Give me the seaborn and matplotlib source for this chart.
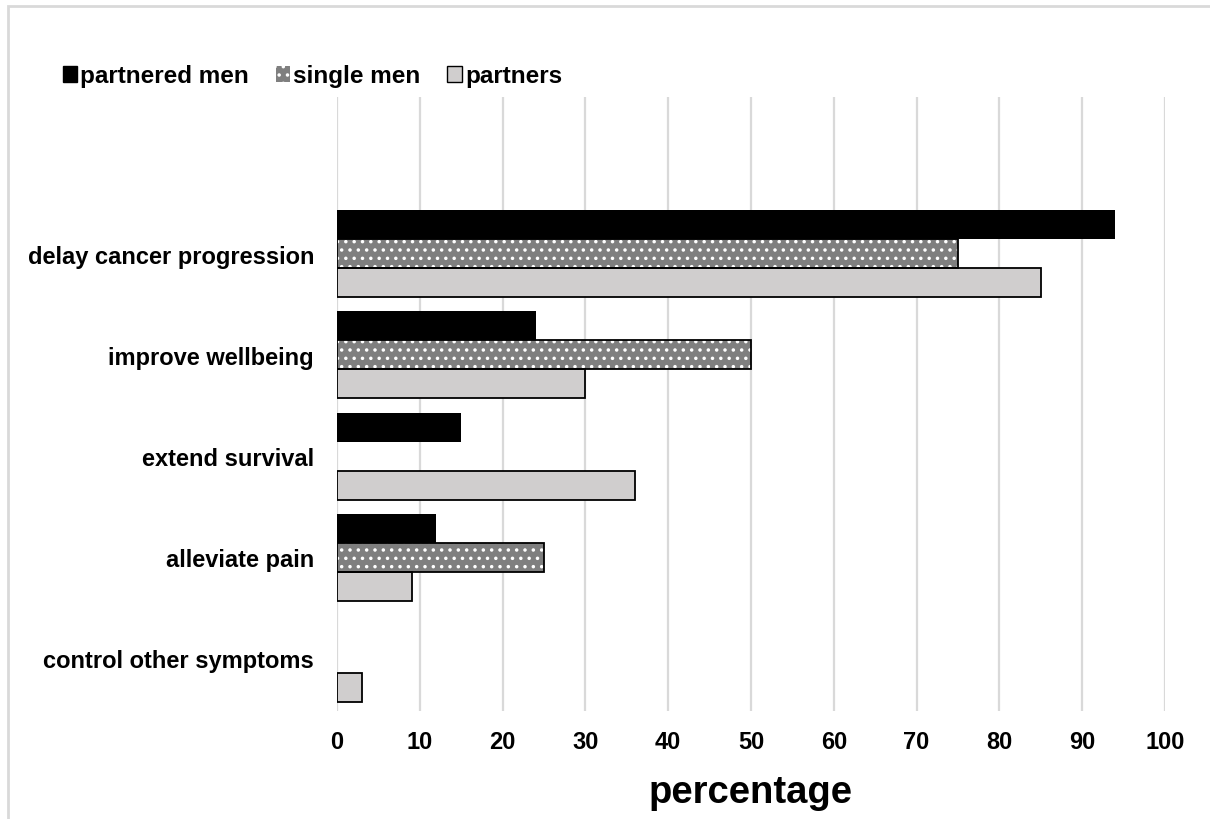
import numpy as np
import pandas as pd
import matplotlib
matplotlib.use("Agg")
from matplotlib import pyplot as plt
from matplotlib.patches import Rectangle, Patch
import seaborn as sns

# data (NaN = no bar drawn)
reasons = ["delay cancer progression", "improve wellbeing", "extend survival",
           "alleviate pain", "control other symptoms"]
groups = ["partnered men", "single men", "partners"]
partnered_men = [94, 24, 15, 12, np.nan]
single_men = [75, 50, np.nan, 25, np.nan]
partners = [85, 30, 36, 9, 3]
x_ticks = [0, 10, 20, 30, 40, 50, 60, 70, 80, 90, 100]

colors = ["#000000", "#7f7f7f", "#d0cece"]

df = pd.DataFrame({"reason": reasons * 3,
                   "group": np.repeat(groups, len(reasons)),
                   "pct": partnered_men + single_men + partners})

sns.set_style("white")
plt.rcParams["font.family"] = ["Liberation Sans", "DejaVu Sans"]
plt.rcParams["font.weight"] = "bold"
plt.rcParams["text.color"] = "black"
plt.rcParams["axes.labelcolor"] = "black"
plt.rcParams["xtick.color"] = "black"
plt.rcParams["ytick.color"] = "black"
plt.rcParams["hatch.linewidth"] = 1.3

fig = plt.figure(figsize=(12.1, 8.2), dpi=100)
ax = fig.add_axes([337 / 1210, 1 - 712 / 820, (1165 - 337) / 1210, (712 - 98) / 820])

sns.barplot(data=df, y="reason", x="pct", hue="group", hue_order=groups,
            order=reasons, palette=colors, orient="h", width=0.86,
            edgecolor="black", linewidth=1.3, ax=ax, legend=False)

# single men: grey with white dots, black outline drawn on top
for p in ax.containers[1]:
    if np.isnan(p.get_width()):
        continue
    p.set_hatch("..")
    p.set_edgecolor("white")
    p.set_linewidth(0)
    ax.add_patch(Rectangle(p.get_xy(), p.get_width(), p.get_height(),
                           fill=False, edgecolor="black", linewidth=1.3, zorder=3))

# partnered men bars have no visible outline
for p in ax.containers[0]:
    p.set_linewidth(0)

ax.set_xlim(0, 100)
ax.set_ylim(4.52, -1.55)
ax.set_xticks(x_ticks)
ax.grid(axis="x", color="#d9d9d9", linewidth=1.6)
ax.grid(axis="y", visible=False)
ax.set_axisbelow(True)
sns.despine(ax=ax, left=True, bottom=True)
ax.tick_params(axis="both", length=0, labelsize=17)
ax.tick_params(axis="y", pad=16.5)
ax.tick_params(axis="x", pad=14)
for lab in ax.get_xticklabels() + ax.get_yticklabels():
    lab.set_fontweight("bold")
ax.set_ylabel("")
ax.set_xlabel("percentage", fontsize=27.5, fontweight="bold", labelpad=15)

# legend across the top
handles = [Patch(facecolor=colors[0], edgecolor="black", linewidth=1),
           Patch(facecolor=colors[1], edgecolor="white", hatch="..", linewidth=0),
           Patch(facecolor=colors[2], edgecolor="black", linewidth=1)]
fig.legend(handles, groups, loc="center left", bbox_to_anchor=(41 / 1210, 1 - 77 / 820),
           ncol=3, frameon=False, handlelength=0.6, handleheight=0.6,
           handletextpad=0.12, columnspacing=1.1, prop={"size": 17.5, "weight": "bold"})

# light grey chart border (cropped on right and bottom)
fig.add_artist(Rectangle((8 / 1210, -0.1), 1.2, 1.1 - 7 / 820, transform=fig.transFigure,
                         fill=False, edgecolor="#d9d9d9", linewidth=2))

plt.savefig("out.png", dpi=100)
